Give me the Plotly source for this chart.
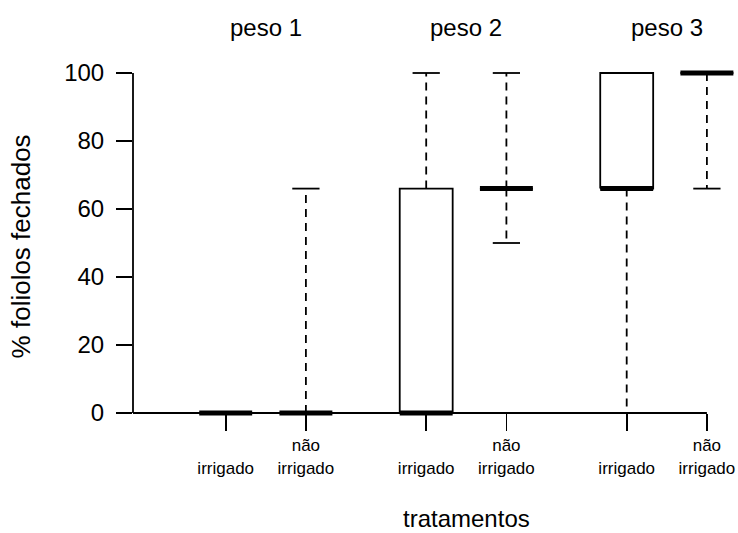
import plotly.graph_objects as go

# ---- data ----
positions = [1, 2, 3.5, 4.5, 6, 7]
tick_labels = [" <br>irrigado", "não<br>irrigado", " <br>irrigado", "não<br>irrigado", " <br>irrigado", "não<br>irrigado"]
lower_whisker = [0, 0, 0, 50, 0, 66]
q1 = [0, 0, 0, 66, 66, 100]
median = [0, 0, 0, 66, 66, 100]
q3 = [0, 0, 66, 66, 100, 100]
upper_whisker = [0, 66, 100, 100, 100, 100]
group_labels = ["peso 1", "peso 2", "peso 3"]
group_centers = [1.5, 4, 6.5]
y_ticks = [0, 20, 40, 60, 80, 100]

# ---- style ----
FONT = "Liberation Sans, Arial, sans-serif"
BOX_HW = 0.33
CAP_HW = 0.17
LW = 1.8

box_x, box_y = [], []
wh_x, wh_y = [], []
cap_x, cap_y = [], []
med_x, med_y = [], []
for p, lw, a, m, b, uw in zip(positions, lower_whisker, q1, median, q3, upper_whisker):
    box_x += [p - BOX_HW, p + BOX_HW, p + BOX_HW, p - BOX_HW, p - BOX_HW, None]
    box_y += [a, a, b, b, a, None]
    wh_x += [p, p, None, p, p, None]
    wh_y += [b, uw, None, a, lw, None]
    cap_x += [p - CAP_HW, p + CAP_HW, None, p - CAP_HW, p + CAP_HW, None]
    cap_y += [uw, uw, None, lw, lw, None]
    med_x += [p - BOX_HW, p + BOX_HW, None]
    med_y += [m, m, None]

fig = go.Figure()
fig.add_trace(go.Scatter(x=wh_x, y=wh_y, mode="lines",
                         line=dict(color="black", width=LW, dash="8px,6px"), hoverinfo="skip"))
fig.add_trace(go.Scatter(x=cap_x, y=cap_y, mode="lines",
                         line=dict(color="black", width=LW), hoverinfo="skip"))
fig.add_trace(go.Scatter(x=box_x, y=box_y, mode="lines",
                         line=dict(color="black", width=LW), hoverinfo="skip"))
fig.add_trace(go.Scatter(x=med_x, y=med_y, mode="lines",
                         line=dict(color="black", width=5), hoverinfo="skip"))

W, H = 738, 533
ml, mr, mt, mb = 133, 0, 59, 113
plot_h = H - mt - mb
plot_w = W - ml - mr
px_per_unit = 3.4
y100_px = 73
y0_px = 413
y_top = 100 + (y100_px - mt) / px_per_unit
y_bot = y_top - plot_h / px_per_unit
x_origin_px = 145.5   # pixel of x=0
x_unit_px = 80.2
x0 = (ml - x_origin_px) / x_unit_px
x1 = (W - mr - x_origin_px) / x_unit_px
xaxis_pos = (H - mb - y0_px) / plot_h

fig.update_layout(
    width=W, height=H,
    margin=dict(l=ml, r=mr, t=mt, b=mb, autoexpand=False),
    paper_bgcolor="white", plot_bgcolor="white",
    showlegend=False, hovermode=False,
    font=dict(family=FONT, color="black"),
    xaxis=dict(range=[x0, x1], tickvals=positions, ticktext=tick_labels,
               showgrid=False, zeroline=False, showline=False,
               ticks="outside", ticklen=17, tickwidth=LW, tickcolor="black",
               tickfont=dict(size=17, family=FONT, color="black"),
               anchor="free", position=xaxis_pos, fixedrange=True, automargin=False),
    yaxis=dict(range=[y_bot, y_top], tickvals=y_ticks,
               showgrid=False, zeroline=False, showline=False,
               ticks="outside", ticklen=16, tickwidth=LW, tickcolor="black",
               tickfont=dict(size=24, family=FONT, color="black"),
               ticklabelstandoff=7, fixedrange=True, automargin=False),
)

# axis lines (R style)
fig.add_shape(type="line", xref="paper", yref="y", x0=0, x1=0, y0=0, y1=100,
              line=dict(color="black", width=LW))
fig.add_shape(type="line", xref="paper", yref="y", x0=0, x1=(positions[-1] - x0) / (x1 - x0), y0=0, y1=0,
              line=dict(color="black", width=LW))

for lab, c in zip(group_labels, group_centers):
    fig.add_annotation(x=c, y=(H - mb - 28) / plot_h, xref="x", yref="paper",
                       text=lab, showarrow=False, font=dict(size=24, family=FONT),
                       xanchor="center", yanchor="middle")

fig.add_annotation(x=4, y=(H - mb - 518) / plot_h, xref="x", yref="paper",
                   text="tratamentos", showarrow=False, font=dict(size=24, family=FONT),
                   xanchor="center", yanchor="middle")
fig.add_annotation(x=(21 - ml) / plot_w, y=49, xref="paper", yref="y",
                   text="% foliolos fechados", textangle=-90, showarrow=False,
                   font=dict(size=26, family=FONT), xanchor="center", yanchor="middle")

fig.write_html("out.html", config={"displayModeBar": False, "staticPlot": True},
               post_script="document.body.style.margin='0';document.body.style.overflow='hidden';")
